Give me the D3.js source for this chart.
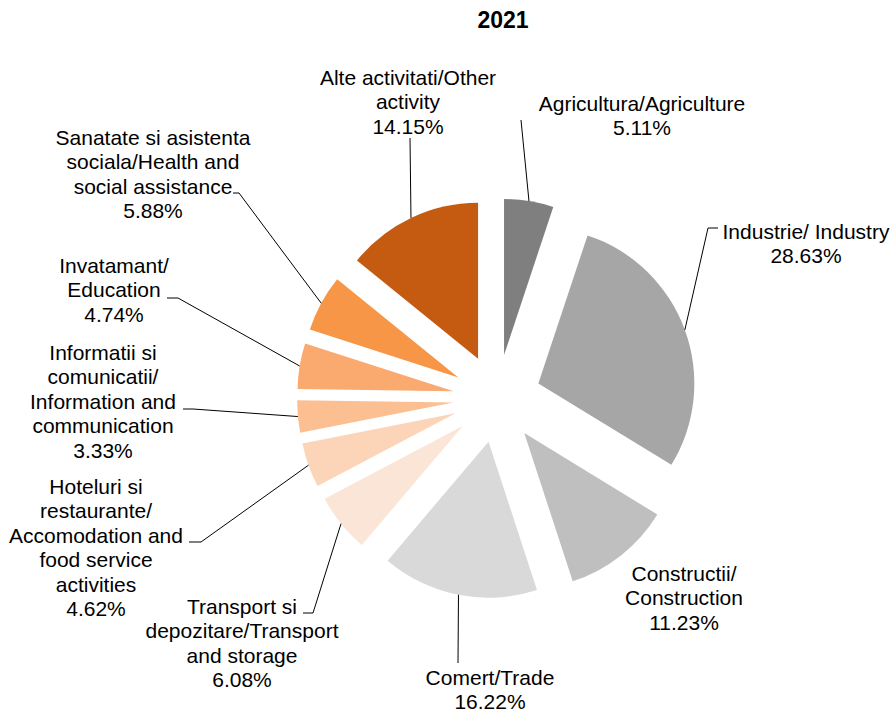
<!DOCTYPE html>
<html>
<head>
    <meta charset="utf-8">
    <title>2021</title>
    <script src="https://d3js.org/d3.v7.min.js"></script>
    <style>
        body { margin: 0; background: #fff; }
        .title { font-family: "Liberation Sans", Arial, sans-serif; font-size: 23px; font-weight: bold; fill: #000; }
        .lbl { font-family: "Liberation Sans", Arial, sans-serif; font-size: 21px; fill: #000; }
        .leader { fill: none; stroke: #000; stroke-width: 1; }
    </style>
</head>
<body>
<div id="chart"></div>
<script>
    // data
    const categories = [
        ['Agricultura/Agriculture'],
        ['Industrie/ Industry'],
        ['Constructii/', 'Construction'],
        ['Comert/Trade'],
        ['Transport si', 'depozitare/Transport', 'and storage'],
        ['Hoteluri si', 'restaurante/', 'Accomodation and', 'food service', 'activities'],
        ['Informatii si', 'comunicatii/', 'Information and', 'communication'],
        ['Invatamant/', 'Education'],
        ['Sanatate si asistenta', 'sociala/Health and', 'social assistance'],
        ['Alte activitati/Other', 'activity']
    ];
    const values = [5.11, 28.63, 11.23, 16.22, 6.08, 4.62, 3.33, 4.74, 5.88, 14.15];
    const colors = ['#7f7f7f', '#a6a6a6', '#bfbfbf', '#d9d9d9', '#fbe5d6',
                    '#fcd5b8', '#fbbf92', '#faa96f', '#f79646', '#c55a11'];

    // label layout: text centre x, first baseline y, leader start points (label side)
    const labelLayout = [
        { x: 642, y: 111, leader: [[521, 120]] },
        { x: 806, y: 239, leader: [[718, 228], [708, 228]] },
        { x: 684, y: 581, leader: null },
        { x: 490, y: 685, leader: [[458, 663]] },
        { x: 242, y: 614, leader: [[303, 613], [313, 613]] },
        { x: 96, y: 494, leader: [[189, 542], [201, 542]] },
        { x: 103, y: 360, leader: [[183, 409], [193, 409]] },
        { x: 114, y: 273, leader: [[167, 298], [178, 298]] },
        { x: 153, y: 145, leader: [[233, 193], [239, 193]] },
        { x: 408, y: 85, leader: [[410, 138]] }
    ];

    const width = 895, height = 715;
    const cx = 497, cy = 398.5;
    const radius = 156, explode = 44, lineHeight = 24.4;

    const svg = d3.select('#chart').append('svg')
        .attr('width', width)
        .attr('height', height);

    svg.append('text')
        .attr('class', 'title')
        .attr('x', 503)
        .attr('y', 28)
        .attr('text-anchor', 'middle')
        .text('2021');

    const pie = d3.pie().sort(null).value(d => d);
    const arcs = pie(values);
    const arc = d3.arc().innerRadius(0).outerRadius(radius);

    const mid = d => (d.startAngle + d.endAngle) / 2;
    const offset = (d, r) => [Math.sin(mid(d)) * r, -Math.cos(mid(d)) * r];

    const g = svg.append('g').attr('transform', `translate(${cx},${cy})`);

    g.selectAll('path.slice')
        .data(arcs)
        .enter()
        .append('path')
        .attr('class', 'slice')
        .attr('transform', d => `translate(${offset(d, explode)})`)
        .attr('d', arc)
        .style('fill', (d, i) => colors[i]);

    // leader lines: from label side to the outer arc point of each exploded slice
    const line = d3.line();
    arcs.forEach((d, i) => {
        const lay = labelLayout[i];
        if (!lay.leader) return;
        const end = offset(d, radius + explode);
        const pts = lay.leader.concat([[cx + end[0], cy + end[1]]]);
        svg.append('path')
            .attr('class', 'leader')
            .attr('d', line(pts));
    });

    // labels
    arcs.forEach((d, i) => {
        const lay = labelLayout[i];
        const lines = categories[i].concat([values[i].toFixed(2) + '%']);
        const t = svg.append('text')
            .attr('class', 'lbl')
            .attr('text-anchor', 'middle');
        t.selectAll('tspan')
            .data(lines)
            .enter()
            .append('tspan')
            .attr('x', lay.x)
            .attr('y', (s, k) => lay.y + k * lineHeight)
            .text(s => s);
    });
</script>
</body>
</html>
